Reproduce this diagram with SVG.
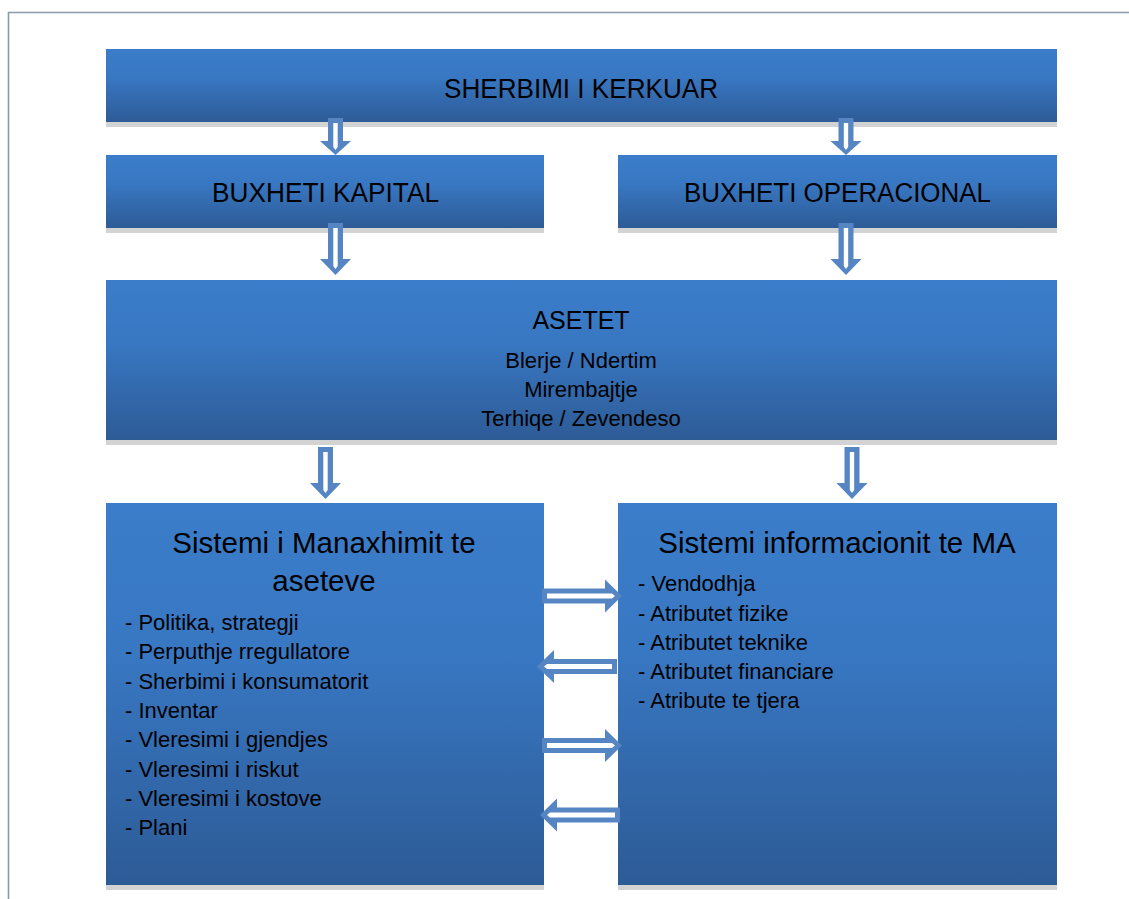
<svg xmlns="http://www.w3.org/2000/svg" width="1129" height="899" viewBox="0 0 1129 899">
  <defs>
    <linearGradient id="boxFill" x1="0" y1="0" x2="0" y2="1">
      <stop offset="0" stop-color="#3b7dca"/>
      <stop offset="0.4" stop-color="#3877c2"/>
      <stop offset="1" stop-color="#2d5b96"/>
    </linearGradient>
    <!-- hollow block arrow pointing down, origin at top centre, length 52 -->
    <g id="downLong">
      <path class="arrowOuter" d="M-7.5,0 H7.5 V36 H15.5 L0,52 L-15.5,36 H-7.5 Z"/>
      <path class="arrowInner" d="M-2.2,5 H2.2 V43 L0,46 L-2.2,43 Z"/>
    </g>
    <g id="downShort">
      <path class="arrowOuter" d="M-7.5,0 H7.5 V23 H15.5 L0,37 L-15.5,23 H-7.5 Z"/>
      <path class="arrowInner" d="M-2.2,5 H2.2 V29 L0,32 L-2.2,29 Z"/>
    </g>
    <!-- hollow block arrow pointing right, origin at tail centre, length 80 -->
    <g id="rightArrow">
      <path class="arrowOuter" d="M0,-7.5 H63 V-16.5 L80,0 L63,16.5 V7.5 H0 Z"/>
      <path class="arrowInner" d="M5,-2.4 H70 L73,0 L70,2.4 H5 Z"/>
    </g>
  </defs>
  <style>
    .box { fill: url(#boxFill); }
    .shadow { fill: #d3d3d3; }
    .frame { stroke: #8a9bb0; stroke-width: 1.6; fill: none; }
    .arrowOuter { fill: #5585c2; }
    .arrowInner { fill: #ffffff; }
    text { font-family: "Liberation Sans", Arial, sans-serif; fill: #000000; }
    .title { font-size: 27px; text-anchor: middle; }
    .head { font-size: 29.5px; text-anchor: middle; }
    .sub { font-size: 22px; text-anchor: middle; }
    .item { font-size: 22px; }
  </style>

  <rect width="1129" height="899" fill="#ffffff"/>
  <!-- page frame -->
  <path class="frame" d="M8.5,899 V12.5 H1129"/>

  <g id="sherbimi">
    <rect class="shadow" x="106" y="122" width="951" height="5"/>
    <rect class="box" x="106" y="49" width="951" height="73"/>
    <text class="title" x="581" y="98" textLength="274" lengthAdjust="spacingAndGlyphs">SHERBIMI I KERKUAR</text>
  </g>

  <g id="buxheti-kapital">
    <rect class="shadow" x="106" y="228" width="438" height="5"/>
    <rect class="box" x="106" y="155" width="438" height="73"/>
    <text class="title" x="325.5" y="202" textLength="227" lengthAdjust="spacingAndGlyphs">BUXHETI KAPITAL</text>
  </g>

  <g id="buxheti-operacional">
    <rect class="shadow" x="618" y="228" width="439" height="5"/>
    <rect class="box" x="618" y="155" width="439" height="73"/>
    <text class="title" x="837.5" y="202" textLength="307" lengthAdjust="spacingAndGlyphs">BUXHETI OPERACIONAL</text>
  </g>

  <g id="asetet">
    <rect class="shadow" x="106" y="440" width="951" height="5"/>
    <rect class="box" x="106" y="280" width="951" height="160"/>
    <text class="sub" x="581" y="328.5" style="font-size:25px">ASETET</text>
    <text class="sub" x="581" y="368">Blerje / Ndertim</text>
    <text class="sub" x="581" y="397">Mirembajtje</text>
    <text class="sub" x="581" y="425.5">Terhiqe / Zevendeso</text>
  </g>

  <g id="sistemi-manaxhimit">
    <rect class="shadow" x="106" y="885" width="438" height="5"/>
    <rect class="box" x="106" y="503" width="438" height="382"/>
    <text class="head" x="324" y="552.5">Sistemi i Manaxhimit te</text>
    <text class="head" x="324" y="591">aseteve</text>
    <text class="item" x="125" y="629.5">- Politika, strategji</text>
    <text class="item" x="125" y="659">- Perputhje rregullatore</text>
    <text class="item" x="125" y="688.5">- Sherbimi i konsumatorit</text>
    <text class="item" x="125" y="718">- Inventar</text>
    <text class="item" x="125" y="747">- Vleresimi i gjendjes</text>
    <text class="item" x="125" y="776.5">- Vleresimi i riskut</text>
    <text class="item" x="125" y="806">- Vleresimi i kostove</text>
    <text class="item" x="125" y="835">- Plani</text>
  </g>

  <g id="sistemi-informacionit">
    <rect class="shadow" x="618" y="885" width="439" height="5"/>
    <rect class="box" x="618" y="503" width="439" height="382"/>
    <text class="head" x="837" y="552.5">Sistemi informacionit te MA</text>
    <text class="item" x="638" y="591">- Vendodhja</text>
    <text class="item" x="638" y="620.5">- Atributet fizike</text>
    <text class="item" x="638" y="649.5">- Atributet teknike</text>
    <text class="item" x="638" y="678.5">- Atributet financiare</text>
    <text class="item" x="638" y="707.5">- Atribute te tjera</text>
  </g>

  <g id="connectors">
    <use href="#downShort" x="335.5" y="118"/>
    <use href="#downShort" x="846" y="118"/>
    <use href="#downLong" x="335.5" y="223"/>
    <use href="#downLong" x="846" y="223"/>
    <use href="#downLong" x="325.5" y="447"/>
    <use href="#downLong" x="852" y="447"/>
    <use href="#rightArrow" x="542" y="596"/>
    <use href="#rightArrow" x="542" y="745.5"/>
    <use href="#rightArrow" transform="translate(617,666.5) scale(-1,1)"/>
    <use href="#rightArrow" transform="translate(620,815) scale(-1,1)"/>
  </g>
</svg>
